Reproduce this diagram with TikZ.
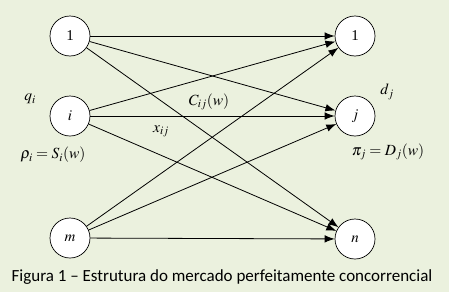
\documentclass[tikz,border=0pt]{standalone}
\usepackage{mathptmx}
\usepackage{fontspec}
\setmainfont{Liberation Serif}
\newfontfamily\capfont{Carlito}
\usetikzlibrary{arrows.meta}
\definecolor{bgcol}{HTML}{EBF1DE}

\begin{document}
\begin{tikzpicture}[x=1pt,y=-1pt,
  market/.style={circle,draw,fill=white,minimum size=40pt,inner sep=0pt,
                 line width=0.7pt,font=\fontsize{15}{15}\selectfont},
  flow/.style={-{Latex[length=10pt,width=7.5pt]},line width=0.8pt},
  lbl/.style={font=\fontsize{15.5}{15.5}\selectfont,inner sep=0pt}]
  \fill[bgcol] (0,0) rectangle (449,292);
  \useasboundingbox (0,0) rectangle (449,292);

  % supply markets (left)
  \node[market] (s1) at (70,36)  {1};
  \node[market] (si) at (70,116) {$i$};
  \node[market] (sm) at (70,238) {$m$};
  % demand markets (right)
  \node[market] (d1) at (355,36)  {1};
  \node[market] (dj) at (355,116) {$j$};
  \node[market] (dn) at (355,239) {$n$};

  % flows between markets
  \foreach \s in {s1,si,sm}
    \foreach \d in {d1,dj,dn}
      \draw[flow] (\s) -- (\d);

  % labels
  \node[lbl] (qi)  at (30,99)   {$q_i$};
  \node[lbl] (rho) at (53,155)  {$\rho_i = S_i(w)$};
  \node[lbl] (cij) at (209,102) {$C_{ij}(w)$};
  \node[lbl] (xij) at (161,131) {$x_{ij}$};
  \node[lbl] (dd)  at (387,92)  {$d_j$};
  \node[lbl] (pij) at (388,152) {$\pi_j = D_j(w)$};

  \node[font=\capfont\fontsize{17}{17}\selectfont,inner sep=0pt] (cap) at (222,277)
    {Figura 1 – Estrutura do mercado perfeitamente concorrencial};
\end{tikzpicture}
\end{document}
